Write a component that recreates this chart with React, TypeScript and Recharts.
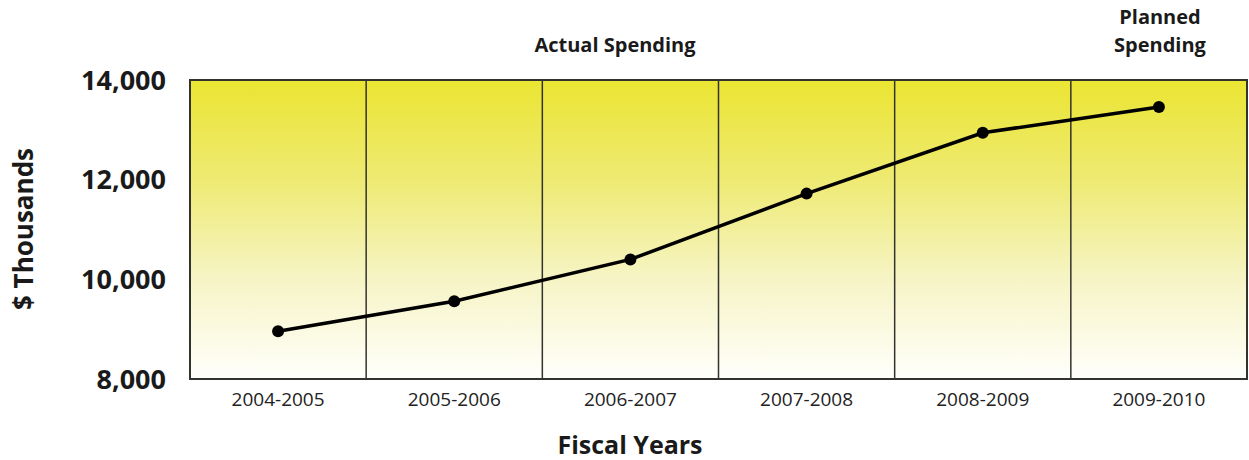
import {
  LineChart,
  Line,
  XAxis,
  YAxis,
  CartesianGrid,
  ReferenceArea,
  ReferenceLine,
} from "recharts";

const years = ["2004-2005", "2005-2006", "2006-2007", "2007-2008", "2008-2009", "2009-2010"];
const spending = [8960, 9560, 10400, 11720, 12940, 13460];
const yTicks = [8000, 10000, 12000, 14000];

const data = years.map((year, i) => ({ x: i + 0.5, year, value: spending[i] }));
const xTicks = data.map((d) => d.x);
const dividers = years.slice(1).map((_, i) => i + 1);

const font = "'Open Sans', 'Noto Sans', sans-serif";
const GRID = "#33332e";

export default function App() {
  return (
    <div style={{ position: "absolute", left: 0, top: 0, width: 1249, height: 460, background: "#fff", fontFamily: font }}>
      <LineChart width={1249} height={460} data={data} margin={{ top: 80, right: 2, left: 0, bottom: 51 }}>
        <defs>
          <linearGradient id="bg" x1="0" y1="0" x2="0" y2="1">
            <stop offset="0%" stopColor="#ebe532" />
            <stop offset="33%" stopColor="#eeea72" />
            <stop offset="66%" stopColor="#f6f4c4" />
            <stop offset="100%" stopColor="#fffffc" />
          </linearGradient>
        </defs>
        <ReferenceArea x1={0} x2={6} y1={8000} y2={14000} fill="url(#bg)" fillOpacity={1} stroke={GRID} strokeWidth={2} />
        <CartesianGrid vertical={false} stroke={GRID} strokeWidth={1.5} />
        {dividers.map((d) => (
          <ReferenceLine key={d} x={d} stroke={GRID} strokeWidth={1.5} />
        ))}
        <XAxis
          type="number"
          dataKey="x"
          domain={[0, 6]}
          ticks={xTicks}
          tickFormatter={(v: number) => years[Math.round(v - 0.5)]}
          axisLine={false}
          tickLine={false}
          height={30}
          tick={{ fontSize: 19, fill: "#222", fontFamily: font }}
          tickMargin={8}
        />
        <YAxis
          domain={[8000, 14000]}
          ticks={yTicks}
          tickFormatter={(v: number) => v.toLocaleString("en-US")}
          axisLine={false}
          tickLine={false}
          width={190}
          tick={{ fontSize: 27, fontWeight: 700, fill: "#1a1a1a", fontFamily: font }}
          tickMargin={18}
        />
        <Line
          type="linear"
          dataKey="value"
          stroke="#000"
          strokeWidth={3.5}
          dot={{ r: 6, fill: "#000", stroke: "#000", strokeWidth: 0 }}
          isAnimationActive={false}
        />
      </LineChart>
      <div style={{ position: "absolute", left: 515, width: 200, top: 31, textAlign: "center", fontSize: 20, fontWeight: 700, color: "#1a1a1a" }}>
        Actual Spending
      </div>
      <div style={{ position: "absolute", left: 1080, width: 160, top: 3, textAlign: "center", fontSize: 20, fontWeight: 700, color: "#1a1a1a", lineHeight: "28px" }}>
        Planned
        <br />
        Spending
      </div>
      <div style={{ position: "absolute", left: 530, width: 200, top: 427, textAlign: "center", fontSize: 25, fontWeight: 700, color: "#1a1a1a" }}>
        Fiscal Years
      </div>
      <div
        style={{
          position: "absolute",
          left: 23,
          top: 229,
          transform: "translate(-50%, -50%) rotate(-90deg)",
          whiteSpace: "nowrap",
          fontSize: 26,
          fontWeight: 700,
          color: "#1a1a1a",
        }}
      >
        $ Thousands
      </div>
    </div>
  );
}
